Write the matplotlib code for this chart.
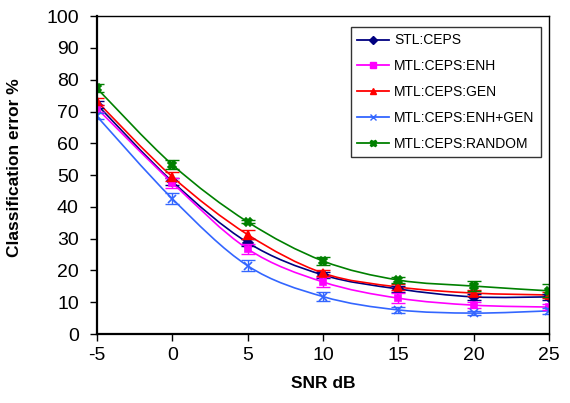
import matplotlib
matplotlib.use("Agg")
import matplotlib.pyplot as plt
from matplotlib.path import Path
from matplotlib.patches import PathPatch
from matplotlib.lines import Line2D

plt.rcParams['font.family'] = ['Liberation Sans', 'DejaVu Sans']
plt.rcParams['axes.unicode_minus'] = False

snr = [-5, 0, 5, 10, 15, 20, 25]

stl_ceps = [72.2, 48.0, 28.8, 18.6, 14.2, 11.7, 11.7]
mtl_enh = [71.0, 47.6, 26.8, 16.4, 11.3, 9.1, 8.5]
mtl_gen = [73.2, 49.5, 31.3, 19.2, 14.8, 12.9, 12.3]
mtl_enh_gen = [68.5, 42.6, 21.5, 11.8, 7.6, 6.6, 7.3]
mtl_random = [77.3, 53.3, 35.3, 23.0, 17.0, 15.1, 13.6]

err_stl = [1.0, 1.0, 1.0, 1.0, 1.0, 1.0, 1.0]
err_enh = [1.0, 1.5, 1.5, 1.5, 1.5, 1.0, 1.0]
err_gen = [1.0, 1.5, 1.5, 1.0, 1.0, 1.0, 1.0]
err_enh_gen = [1.0, 1.8, 1.8, 1.5, 1.0, 0.7, 1.0]
err_random = [1.2, 1.5, 0.5, 1.2, 1.0, 1.5, 2.0]

names = ['STL:CEPS', 'MTL:CEPS:ENH', 'MTL:CEPS:GEN',
         'MTL:CEPS:ENH+GEN', 'MTL:CEPS:RANDOM']
series = [stl_ceps, mtl_enh, mtl_gen, mtl_enh_gen, mtl_random]
errors = [err_stl, err_enh, err_gen, err_enh_gen, err_random]
colors = ['#000080', '#FF00FF', '#FF0000', '#3366FF', '#008000']
markers = ['D', 's', '^', 'x', 'X']
msizes = [5, 5, 6, 6, 6]


def smooth_path(xs, ys):
    # excel style smoothed line: bezier segments through the points
    pts = list(zip(xs, ys))
    verts = [pts[0]]
    codes = [Path.MOVETO]
    n = len(pts)
    for i in range(n - 1):
        p0 = pts[i - 1] if i > 0 else pts[i]
        p1 = pts[i]
        p2 = pts[i + 1]
        p3 = pts[i + 2] if i + 2 < n else pts[i + 1]
        c1 = (p1[0] + (p2[0] - p0[0]) / 6, p1[1] + (p2[1] - p0[1]) / 6)
        c2 = (p2[0] - (p3[0] - p1[0]) / 6, p2[1] - (p3[1] - p1[1]) / 6)
        verts += [c1, c2, p2]
        codes += [Path.CURVE4] * 3
    return Path(verts, codes)


fig = plt.figure(figsize=(5.7, 4.03), dpi=100)
ax = fig.add_axes([0.170, 0.171, 0.793, 0.789])

handles = []
for name, ys, es, c, m, ms in zip(names, series, errors, colors, markers, msizes):
    ax.add_patch(PathPatch(smooth_path(snr, ys), fill=False, edgecolor=c, lw=1.2))
    ax.errorbar(snr, ys, yerr=es, fmt='none', ecolor=c, elinewidth=1.0,
                capsize=5, capthick=1.0)
    ax.plot(snr, ys, linestyle='none', marker=m, color=c, markersize=ms,
            markeredgewidth=1.2)
    handles.append(Line2D([], [], color=c, lw=1.3, marker=m, markersize=ms - 1))

ax.set_xlim(-5, 25)
ax.set_ylim(0, 100)
ax.set_xticks(snr)
ax.set_yticks(range(0, 101, 10))
ax.tick_params(axis='both', labelsize=14, direction='out', length=5, width=1)
ax.tick_params(axis='y', pad=8)
ax.tick_params(axis='x', pad=4)
for s in ['left', 'bottom']:
    ax.spines[s].set_linewidth(1.6)
for s in ['top', 'right']:
    ax.spines[s].set_linewidth(1.0)

ax.set_xlabel('SNR dB', fontsize=12.5, fontweight='bold')
ax.xaxis.set_label_coords(0.5, -0.132)
ax.set_ylabel('Classification error %', fontsize=12.5, fontweight='bold')
ax.yaxis.set_label_coords(-0.166, 0.525)

leg = ax.legend(handles, names, loc='upper right', bbox_to_anchor=(0.982, 0.965),
                fontsize=10, frameon=True, fancybox=False, handlelength=2.3,
                labelspacing=0.85, borderpad=0.45, handletextpad=0.35,
                borderaxespad=0)
leg.get_frame().set_edgecolor('black')
leg.get_frame().set_linewidth(1.0)

fig.savefig('out.png', dpi=100)
